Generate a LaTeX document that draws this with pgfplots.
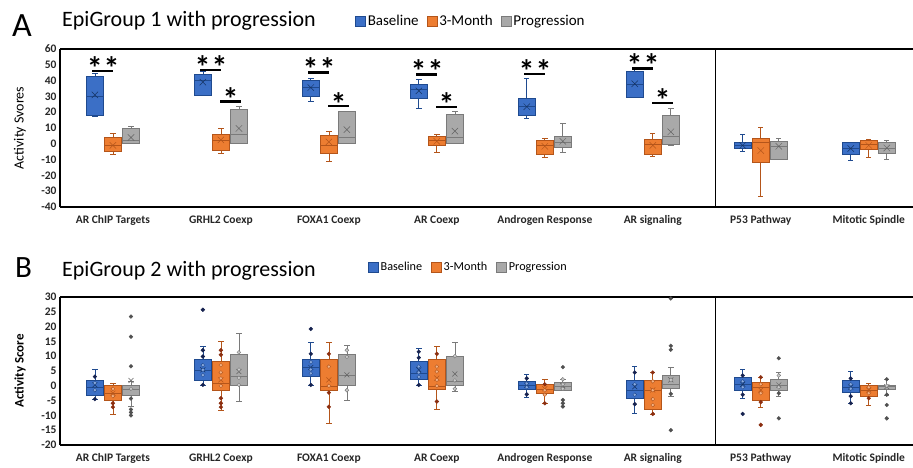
\documentclass[border=0pt]{standalone}
\usepackage{fontspec}
\setmainfont{Carlito}
\usepackage{pgfplots}
\pgfplotsset{compat=1.18}
\usepgfplotslibrary{statistics}
\definecolor{bfill}{HTML}{3B6FC6}
\definecolor{bdraw}{HTML}{1F4A8F}
\definecolor{ofill}{HTML}{ED7D31}
\definecolor{odraw}{HTML}{B4551A}
\definecolor{gfill}{HTML}{A9A9A9}
\definecolor{gdraw}{HTML}{7A7A7A}
\definecolor{bdot}{HTML}{16224F}
\definecolor{odot}{HTML}{8B2E10}
\definecolor{gdot}{HTML}{505050}
\definecolor{txt}{HTML}{262626}
\pgfplotsset{
  boxB/.style={draw=bdraw, line width=0.7pt, boxplot/every box/.style={fill=bfill, draw=bdraw}, boxplot/every median/.style={draw=bdraw, line width=0.5pt}},
  boxM/.style={draw=odraw, line width=0.7pt, boxplot/every box/.style={fill=ofill, draw=odraw}, boxplot/every median/.style={draw=odraw, line width=0.5pt}},
  boxP/.style={draw=gdraw, line width=0.7pt, boxplot/every box/.style={fill=gfill, draw=gdraw}, boxplot/every median/.style={draw=gdraw, line width=0.5pt}},
  meanB/.style={only marks, mark=x, mark size=4.5pt, mark options={draw=bdraw!70!black, line width=0.5pt}},
  meanM/.style={only marks, mark=x, mark size=4.5pt, mark options={draw=odraw, line width=0.5pt}},
  meanP/.style={only marks, mark=x, mark size=4.5pt, mark options={draw=gdraw!80!black, line width=0.5pt}},
  dotB/.style={only marks, mark=*, mark size=1.9pt, mark options={fill=bdot, draw=bdot}},
  dotM/.style={only marks, mark=*, mark size=1.9pt, mark options={fill=odot, draw=odot}},
  dotP/.style={only marks, mark=*, mark size=1.9pt, mark options={fill=gdot, draw=gdot}},
  holB/.style={only marks, mark=*, mark size=1.9pt, mark options={fill=bfill!60!white, draw=bdraw, line width=0.4pt}},
  holM/.style={only marks, mark=*, mark size=1.9pt, mark options={fill=ofill!60!white, draw=odraw, line width=0.4pt}},
  holP/.style={only marks, mark=*, mark size=1.9pt, mark options={fill=gfill!60!white, draw=gdraw, line width=0.4pt}},
  cats/.style={
    scale only axis, width=853pt,
    xmin=-0.49, xmax=7.41,
    xtick={0,...,7},
    xticklabels={AR ChIP Targets, GRHL2 Coexp, FOXA1 Coexp, AR Coexp, Androgen Response, AR signaling, P53 Pathway, Mitotic Spindle},
    major tick length=0pt,
    axis x line*=bottom, axis y line*=left,
    axis line style={line width=1.8pt, -},
    tick label style={font=\fontsize{11.5}{13}\selectfont\bfseries, text=txt},
    xticklabel style={font=\fontsize{11.5}{13}\selectfont\bfseries, yshift=-5pt},
    /pgf/number format/assume math mode=true,
    boxplot/draw direction=y,
    boxplot/box extend=0.157, boxplot/whisker extend=0.05,
    clip=false, legend cell align=left,
  },
}
\newcommand{\bx}[8]{%
  \addplot[box#8, boxplot prepared={draw position=#1, lower whisker=#2, lower quartile=#3, median=#4, upper quartile=#5, upper whisker=#6}] coordinates {};
  \addplot[mean#8] coordinates {(#1,#7)};
}
\newcommand{\legsq}[3]{\addlegendimage{legend image code/.code={\draw[fill=#1,draw=#2,line width=0.6pt] (0pt,-#3) rectangle (2*#3,#3);}}}
\begin{document}
\begin{tikzpicture}
\useasboundingbox (0,0) rectangle (913pt,-468pt);
\node[anchor=base west, inner sep=0pt, font=\fontsize{34}{34}\selectfont] at (12pt,-37pt) {A};
\node[anchor=base west, inner sep=0pt, font=\fontsize{22}{22}\selectfont] at (62pt,-27pt) {EpiGroup 1 with progression};
\node[anchor=base west, inner sep=0pt, font=\fontsize{31}{31}\selectfont] at (15pt,-277pt) {B};
\node[anchor=base west, inner sep=0pt, font=\fontsize{22}{22}\selectfont] at (62pt,-276pt) {EpiGroup 2 with progression};

\begin{axis}[cats, at={(60pt,-49pt)}, anchor=north west, height=158pt,
  ymin=-40, ymax=60, ytick={-40,-30,...,60},
  ylabel={Activity Svores},
  every axis y label/.style={at={(axis description cs:-0.0469,0.5)}, rotate=90, anchor=center, font=\fontsize{14}{16}\selectfont},
  legend style={draw=none, fill=none, legend columns=-1, at={(axis description cs:0.3458,1)}, anchor=west, yshift=28pt, font=\fontsize{15}{17}\selectfont, inner sep=0pt, /tikz/every even column/.append style={column sep=6pt}},
]
\legsq{bfill}{bdraw}{5pt}\addlegendentry{Baseline}
\legsq{ofill}{odraw}{5pt}\addlegendentry{3-Month}
\legsq{gfill}{gdraw}{5pt}\addlegendentry{Progression}
\draw[line width=1.8pt] (rel axis cs:0,1) -- (rel axis cs:1,1);
\draw[line width=1.8pt] (axis cs:5.58,-40) -- (axis cs:5.58,60);
\bx{-0.167}{17.5}{18}{30}{42.6}{44.5}{31}{B}
\bx{0}{-6.5}{-5}{-1}{4.2}{6.7}{-1}{M}
\bx{0.167}{0.6}{0.6}{2.5}{9.5}{11}{4}{P}
\bx{0.833}{30.7}{30.7}{40}{44.1}{45.6}{39}{B}
\bx{1}{-6}{-3.9}{2.5}{6.1}{9.7}{2.5}{M}
\bx{1.167}{0.6}{0.6}{6}{21.8}{23.5}{9.7}{P}
\bx{1.833}{26.9}{30.3}{36}{40}{41.3}{35.6}{B}
\bx{2}{-11}{-6}{-1}{5.2}{8}{1.2}{M}
\bx{2.167}{0.6}{0.6}{4.4}{20.5}{20.5}{9}{P}
\bx{2.833}{22.6}{28.8}{34.5}{37.9}{40.7}{33.5}{B}
\bx{3}{-5.2}{-1.1}{2}{4.8}{5.9}{1.6}{M}
\bx{3.167}{0.6}{0.6}{4.4}{18.6}{20.3}{8}{P}
\bx{3.833}{16.3}{17.7}{23.5}{28.6}{41.3}{23.5}{B}
\bx{4}{-8.6}{-6.5}{-1}{2.5}{3.7}{-1.6}{M}
\bx{4.167}{-5.2}{-2.2}{1}{4.8}{12.7}{1.6}{P}
\bx{4.833}{29.6}{29.6}{38}{45.6}{47.7}{38}{B}
\bx{5}{-8.2}{-6.5}{-0.5}{3.1}{6.3}{-1}{M}
\bx{5.167}{-1}{-0.1}{4.8}{18.2}{22.2}{7.6}{P}
\bx{5.833}{-4.7}{-3}{-1}{1.2}{5.9}{-1}{B}
\bx{6}{-33}{-12}{1}{3.5}{10.1}{-4.3}{M}
\bx{6.167}{-9.6}{-9.6}{-1.6}{1.6}{3.7}{-1.6}{P}
\bx{6.833}{-10.7}{-6.5}{-3}{1}{1}{-3}{B}
\bx{7}{-8.6}{-3.7}{0}{2}{2.7}{-1}{M}
\bx{7.167}{-10}{-6}{-2.6}{1.2}{2.3}{-2.6}{P}
% significance bars
\addplot[black, line width=2.4pt] coordinates {(-0.19,46.2) (0.005,46.2)};
\addplot[black, line width=2.4pt] coordinates {(0.81,46.8) (1.005,46.8)};
\addplot[black, line width=2.4pt] coordinates {(1.81,45.1) (2.005,45.1)};
\addplot[black, line width=2.4pt] coordinates {(2.81,43.9) (3.005,43.9)};
\addplot[black, line width=2.4pt] coordinates {(3.81,44) (4.005,44)};
\addplot[black, line width=2.4pt] coordinates {(4.81,47.7) (5.005,47.7)};
\addplot[black, line width=2.4pt] coordinates {(0.995,26.7) (1.19,26.7)};
\addplot[black, line width=2.4pt] coordinates {(1.995,23.9) (2.19,23.9)};
\addplot[black, line width=2.4pt] coordinates {(2.995,23.3) (3.19,23.3)};
\addplot[black, line width=2.4pt] coordinates {(4.995,26) (5.19,26)};
\begin{scope}[every node/.style={anchor=base, inner sep=0pt, font=\fontsize{32}{32}\selectfont\bfseries}]
\node at (axis cs:-0.09,41.0) {*\hspace{1pt}*};
\node at (axis cs:0.91,41.6) {*\hspace{1pt}*};
\node at (axis cs:1.91,39.9) {*\hspace{1pt}*};
\node at (axis cs:2.91,38.7) {*\hspace{1pt}*};
\node at (axis cs:3.91,38.8) {*\hspace{1pt}*};
\node at (axis cs:4.91,42.5) {*\hspace{1pt}*};
\node at (axis cs:1.09,21.0) {*};
\node at (axis cs:2.09,18.2) {*};
\node at (axis cs:3.09,17.6) {*};
\node at (axis cs:5.09,20.3) {*};
\end{scope}
\end{axis}

\begin{axis}[cats, at={(60pt,-297pt)}, anchor=north west, height=148pt,
  ymin=-20, ymax=30, ytick={-20,-15,...,30},
  ylabel={Activity Score},
  every axis y label/.style={at={(axis description cs:-0.0469,0.5)}, rotate=90, anchor=center, font=\fontsize{13}{15}\selectfont\bfseries},
  meanB/.append style={mark size=3.5pt}, meanM/.append style={mark size=3.5pt}, meanP/.append style={mark size=3.5pt},
  legend style={draw=none, fill=none, legend columns=-1, at={(axis description cs:0.361,1)}, anchor=west, yshift=30pt, font=\fontsize{12.2}{14}\selectfont, inner sep=0pt, /tikz/every even column/.append style={column sep=7pt}},
]
\legsq{bfill}{bdraw}{5pt}\addlegendentry{Baseline}
\legsq{ofill}{odraw}{5pt}\addlegendentry{3-Month}
\legsq{gfill}{gdraw}{5pt}\addlegendentry{Progression}
\draw[line width=1.8pt] (rel axis cs:0,1) -- (rel axis cs:1,1);
\draw[line width=1.8pt] (axis cs:5.58,-20) -- (axis cs:5.58,30);
\bx{-0.167}{-4.5}{-3.2}{-0.6}{2.0}{5.7}{0.3}{B}
\bx{0}{-9.5}{-5.0}{-2.5}{0.3}{0.9}{-2.5}{M}
\bx{0.167}{-7}{-3.2}{-1}{0.3}{1.5}{1.8}{P}
\bx{0.833}{0.3}{2.0}{5.4}{8.8}{13.3}{5.4}{B}
\bx{1}{-8.2}{-1.4}{1}{8.2}{15}{2}{M}
\bx{1.167}{-5.3}{0}{3.1}{10.7}{17.6}{4.8}{P}
\bx{1.833}{0.3}{3.1}{6.2}{8.8}{14.6}{6.2}{B}
\bx{2}{-12.7}{-1.4}{-0.3}{9.1}{14.6}{2}{M}
\bx{2.167}{-4.8}{0}{3.7}{10.5}{13.5}{3.7}{P}
\bx{2.833}{0.3}{2.2}{4.3}{8.2}{12.7}{5.4}{B}
\bx{3}{-8}{-1.2}{-0.3}{8.8}{13.3}{2.6}{M}
\bx{3.167}{-2}{0.3}{1.4}{10.1}{14.6}{4}{P}
\bx{3.833}{-4}{-1.2}{0.2}{1.4}{4}{0.2}{B}
\bx{4}{-5.9}{-2.7}{-1}{0.5}{2.2}{-1}{M}
\bx{4.167}{-1.7}{-1.7}{0}{1.1}{2.2}{0}{P}
\bx{4.833}{-9.3}{-4.3}{-1.4}{1.7}{6.7}{-0.3}{B}
\bx{5}{-9.5}{-7.8}{-1.4}{2}{4.5}{-1.4}{M}
\bx{5.167}{-3.7}{-1}{0.5}{3.4}{6.3}{2}{P}
\bx{5.833}{-4.2}{-1.4}{0.5}{2.8}{5.4}{0.5}{B}
\bx{6}{-7.2}{-4.8}{-0.5}{1.1}{2.9}{-1.4}{M}
\bx{6.167}{-3.7}{-1.7}{0.3}{2.2}{4.5}{0.3}{P}
\bx{6.833}{-5.9}{-2.2}{-0.4}{1.7}{4.8}{-0.4}{B}
\bx{7}{-6.5}{-3.7}{-1.4}{0.3}{0.9}{-1.4}{M}
\bx{7.167}{-3.1}{-1.1}{-0.3}{0.3}{2.2}{-0.3}{P}
\addplot[holB] coordinates {(-0.167,1) (-0.167,-1.5) (0.833,7) (0.833,5.4) (0.833,3.6) (1.833,8) (1.833,5.5) (1.833,4.2) (2.833,6.5) (2.833,4.5) (2.833,3) (3.833,0.8) (3.833,-0.5) (4.833,0.5) (4.833,-3) (5.833,1.5) (5.833,-0.5) (6.833,0.5) (6.833,-1)};
\addplot[holM] coordinates {(0,-1) (0,-3.5) (1,7) (1,4.5) (1,2.5) (1,0) (2,6.5) (2,0) (3,6.5) (3,4.8) (3,2) (3,0) (4,-1.5) (4,-3) (5,1.5) (5,-1.5) (5,-4.5) (5,-6.5) (6,0.5) (6,-2.5) (7,-0.5) (7,-2.5)};
\addplot[holP] coordinates {(0.167,-1) (1.167,11.3) (1.167,5.5) (1.167,2.7) (1.167,0.3) (2.167,12) (2.167,9.8) (2.167,-1.5) (3.167,10) (3.167,1.8) (3.167,-1) (4.167,2.2) (4.167,0.5) (4.167,-1) (5.167,2) (6.167,3.5) (6.167,-0.5) (7.167,0)};
\addplot[dotB] coordinates {(-0.167,3.1) (-0.167,-4.5) (0.833,25.7) (0.833,12) (0.833,9.9) (0.833,0.3) (1.833,19.2) (1.833,10.8) (1.833,0.3) (2.833,11.5) (2.833,9.5) (2.833,0.3) (3.833,2.5) (3.833,-2.9) (4.833,4.5) (4.833,-6.2) (5.833,3.5) (5.833,-3) (5.833,-9.5) (6.833,2.5) (6.833,-3.5) (6.833,-5.9)};
\addplot[dotM] coordinates {(0,-5.9) (0,-7.2) (1,12) (1,10.5) (1,-4.2) (1,-5.9) (1,-7.2) (2,10.8) (2,-2.3) (2,-7.1) (3,10.8) (3,-5.3) (4,-5.9) (4,0.5) (5,4.5) (5,-9.5) (6,2.9) (6,-5.5) (6,-13.2) (7,-4.2)};
\addplot[dotP] coordinates {(0.167,23.4) (0.167,16.6) (0.167,6.6) (0.167,-4.3) (0.167,-8) (0.167,-9) (0.167,-10) (4.167,6.3) (4.167,-4.8) (4.167,-5.9) (4.167,-7) (5.167,29.5) (5.167,13.5) (5.167,12.2) (5.167,-15) (5.167,-2.7) (6.167,9.3) (6.167,-11) (6.167,-2.5) (7.167,2.2) (7.167,-3) (7.167,-6.5) (7.167,-11)};
\end{axis}
\end{tikzpicture}
\end{document}
